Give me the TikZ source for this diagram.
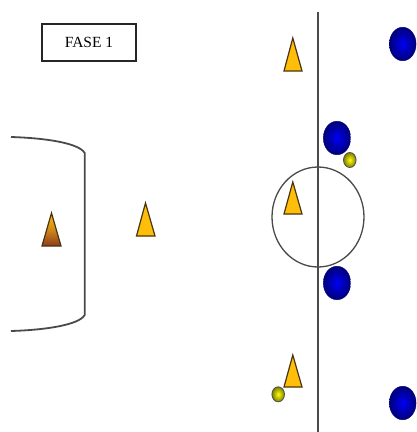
\documentclass[tikz,border=0pt]{standalone}
\usepackage{fontspec}
\setmainfont{Liberation Serif}
\definecolor{conefill}{HTML}{FFBE0A}
\definecolor{coneedge}{HTML}{4A3410}
\definecolor{linegray}{HTML}{4A4A4A}
\definecolor{conedark}{HTML}{8E3A1E}
\definecolor{conemid}{HTML}{D08A18}
\definecolor{playerin}{HTML}{0000F5}
\definecolor{playerout}{HTML}{000078}
\tikzset{
  fieldline/.style={draw=linegray,line width=1.8pt},
  cone/.style={fill=conefill,draw=coneedge,line width=1.2pt,line join=miter},
  darkcone/.style={top color=conefill,bottom color=conedark,middle color=conemid,draw=coneedge,line width=1.2pt},
  player/.style={inner color=playerin,outer color=playerout,draw=playerout,line width=.4pt},
  ball/.style={inner color=yellow!95!white,outer color=yellow!50!black,draw=black!70,line width=.8pt},
  titlebox/.style={draw=black!85,line width=1.1pt,minimum width=94pt,minimum height=37pt,inner sep=0pt,font=\fontsize{15.5}{15.5}\selectfont}
}
\begin{document}
\begin{tikzpicture}[x=1pt,y=-1pt]
\useasboundingbox (0,0) rectangle (416,432);
\node[titlebox] (title) at (89,42.5) {FASE 1};
% goal area
\draw[fieldline,line join=round] (11,137) .. controls (45,138) and (79,143) .. (84.7,153) -- (84.7,315)
  .. controls (79,325) and (45,330) .. (11,331);
% halfway line and centre circle
\draw[fieldline] (318,12) -- (318,432);
\draw[draw=linegray,line width=1.3pt] (318,217) ellipse [x radius=46,y radius=50];
% cones
\draw[darkcone] (51.5,213) -- (61,246) -- (42,246) -- cycle;
\draw[cone] (145.5,203) -- (155,236) -- (136.5,236) -- cycle;
\draw[cone] (292.8,38) -- (302,71) -- (284,71) -- cycle;
\draw[cone] (292.8,182) -- (302,214) -- (284,214) -- cycle;
\draw[cone] (292.8,355) -- (302,387) -- (284,387) -- cycle;
% players
\draw[player] (337,138) ellipse [x radius=13.7,y radius=16.8];
\draw[player] (337,283) ellipse [x radius=13.7,y radius=16.8];
\draw[player] (402.7,44) ellipse [x radius=13.4,y radius=16.8];
\draw[player] (402.7,403) ellipse [x radius=13.4,y radius=16.8];
% balls
\draw[ball] (349.8,160) ellipse [x radius=6.3,y radius=7.5];
\draw[ball] (278.2,394.3) ellipse [x radius=6.3,y radius=7.5];
\end{tikzpicture}
\end{document}
